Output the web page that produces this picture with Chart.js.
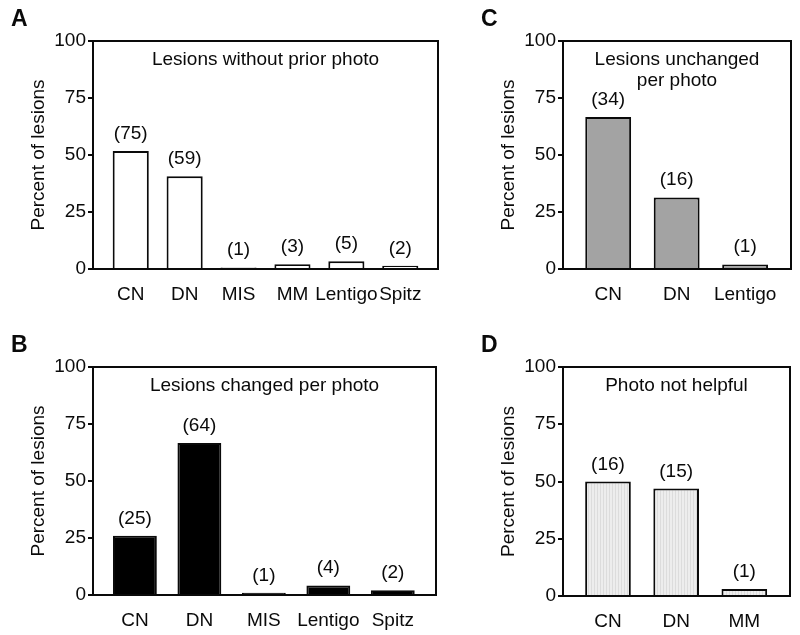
<!DOCTYPE html>
<html>
<head>
<meta charset="utf-8">
<script src="https://cdn.jsdelivr.net/npm/chart.js@4.4.1/dist/chart.umd.min.js"></script>
<style>
  body { margin: 0; background: #fff; }
  #wrap { position: relative; width: 800px; height: 635px; }
  .box { position: absolute; }
</style>
</head>
<body>
<div id="wrap">
  <div class="box" style="left:0;top:0;width:450px;height:310px"><canvas id="chartA"></canvas></div>
  <div class="box" style="left:450px;top:0;width:350px;height:310px"><canvas id="chartC"></canvas></div>
  <div class="box" style="left:0;top:310px;width:450px;height:325px"><canvas id="chartB"></canvas></div>
  <div class="box" style="left:450px;top:310px;width:350px;height:325px"><canvas id="chartD"></canvas></div>
</div>
<script>
// panel A - lesions without prior photo
const catsA = ["CN", "DN", "MIS", "MM", "Lentigo", "Spitz"];
const pctA = [51.7, 40.7, 0.7, 2.1, 3.4, 1.4];
const countsA = [75, 59, 1, 3, 5, 2];

// panel B - lesions changed per photo
const catsB = ["CN", "DN", "MIS", "Lentigo", "Spitz"];
const pctB = [26.0, 66.7, 1.0, 4.2, 2.1];
const countsB = [25, 64, 1, 4, 2];

// panel C - lesions unchanged per photo
const catsC = ["CN", "DN", "Lentigo"];
const pctC = [66.7, 31.4, 2.0];
const countsC = [34, 16, 1];

// panel D - photo not helpful
const catsD = ["CN", "DN", "MM"];
const pctD = [50.0, 46.9, 3.1];
const countsD = [16, 15, 1];

const yTicks = [0, 25, 50, 75, 100];

const FONT = '"Liberation Sans", Arial, sans-serif';
Chart.defaults.font.family = FONT;
Chart.defaults.font.size = 19;
Chart.defaults.color = "#0a0a0a";

// light grey fill with faint vertical stripes (panel D)
function stripes() {
  const c = document.createElement("canvas");
  c.width = 3; c.height = 3;
  const g = c.getContext("2d");
  g.fillStyle = "#ededed";
  g.fillRect(0, 0, 3, 3);
  g.fillStyle = "#dcdcdc";
  g.fillRect(0, 0, 1, 3);
  return g.createPattern(c, "repeat");
}

function decor(counts, title, letter) {
  return {
    id: "decor",
    afterDatasetsDraw(chart) {
      const { ctx, chartArea: a } = chart;
      ctx.save();
      ctx.strokeStyle = "#0a0a0a";
      ctx.lineWidth = 2;
      ctx.strokeRect(a.left, a.top, a.right - a.left, a.bottom - a.top);

      ctx.fillStyle = "#0a0a0a";
      ctx.font = "19px " + FONT;
      ctx.textAlign = "center";
      ctx.textBaseline = "alphabetic";
      chart.getDatasetMeta(0).data.forEach((bar, i) => {
        ctx.fillText("(" + counts[i] + ")", bar.x, bar.y - 12);
      });
      title.forEach((t, i) => {
        ctx.fillText(t, (a.left + a.right) / 2, a.top + 24 + i * 21);
      });

      ctx.font = "bold 23px " + FONT;
      ctx.textAlign = "left";
      ctx.fillText(letter, a.left - 82, a.top - 15);
      ctx.restore();
    }
  };
}

function makeChart(id, cats, pct, counts, fill, title, letter, xmin, xmax, barPct, pad, xHeight) {
  return new Chart(document.getElementById(id), {
    type: "bar",
    data: {
      datasets: [{
        data: pct.map((v, i) => ({ x: i, y: v })),
        backgroundColor: fill,
        borderColor: "#0a0a0a",
        borderWidth: 2,
        barPercentage: barPct,
        categoryPercentage: 1
      }]
    },
    options: {
      responsive: true,
      maintainAspectRatio: false,
      animation: false,
      devicePixelRatio: 1,
      layout: { padding: pad },
      plugins: { legend: { display: false }, tooltip: { enabled: false } },
      scales: {
        x: {
          type: "linear",
          offset: false,
          min: xmin,
          max: xmax,
          afterBuildTicks: s => { s.ticks = cats.map((c, i) => ({ value: i })); },
          afterFit: s => { s.height = xHeight; },
          grid: { display: false },
          border: { display: false },
          ticks: {
            autoSkip: false,
            maxRotation: 0,
            padding: 6,
            callback: v => cats[Math.round(v)]
          }
        },
        y: {
          min: 0,
          max: 100,
          afterBuildTicks: s => { s.ticks = yTicks.map(v => ({ value: v })); },
          afterFit: s => { s.width = 93; },
          border: { display: false },
          grid: {
            drawOnChartArea: false,
            drawTicks: true,
            tickLength: 5,
            color: "#0a0a0a",
            lineWidth: 2
          },
          ticks: { padding: 2 },
          title: {
            display: true,
            text: "Percent of lesions",
            padding: { top: 27, bottom: 0 }
          }
        }
      }
    },
    plugins: [decor(counts, title, letter)]
  });
}

makeChart("chartA", catsA, pctA, countsA, "#ffffff", ["Lesions without prior photo"], "A",
  -0.7, 5.7, 0.67, { left: 0, top: 41, right: 12, bottom: 0 }, 41);
makeChart("chartC", catsC, pctC, countsC, "#a3a3a3", ["Lesions unchanged", "per photo"], "C",
  -0.66, 2.67, 0.67, { left: 20, top: 41, right: 9, bottom: 0 }, 41);
makeChart("chartB", catsB, pctB, countsB, "#000000", ["Lesions changed per photo"], "B",
  -0.65, 4.67, 0.68, { left: 0, top: 57, right: 14, bottom: 0 }, 40);
makeChart("chartD", catsD, pctD, countsD, stripes(), ["Photo not helpful"], "D",
  -0.66, 2.67, 0.67, { left: 20, top: 57, right: 10, bottom: 0 }, 39);
</script>
</body>
</html>
